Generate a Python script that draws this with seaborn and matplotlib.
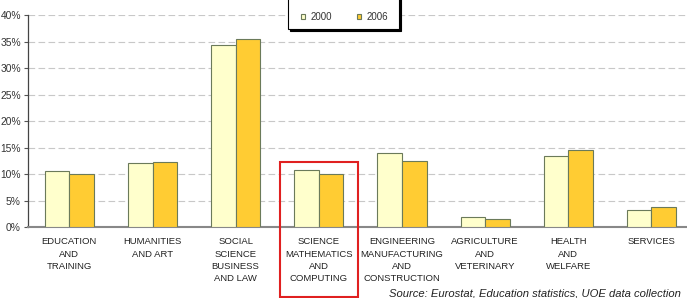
import matplotlib
matplotlib.use("Agg")
import matplotlib.pyplot as plt
from matplotlib.patches import Rectangle
from matplotlib.ticker import FuncFormatter, FixedLocator
import seaborn as sns
import pandas as pd

# Share of tertiary graduates by field of education (%)
fields = [
    "EDUCATION\nAND\nTRAINING",
    "HUMANITIES\nAND ART",
    "SOCIAL\nSCIENCE\nBUSINESS\nAND LAW",
    "SCIENCE\nMATHEMATICS\nAND\nCOMPUTING",
    "ENGINEERING\nMANUFACTURING\nAND\nCONSTRUCTION",
    "AGRICULTURE\nAND\nVETERINARY",
    "HEALTH\nAND\nWELFARE",
    "SERVICES",
]
years = ["2000", "2006"]
share_2000 = [10.5, 12.0, 34.3, 10.8, 13.9, 1.8, 13.4, 3.2]
share_2006 = [10.1, 12.2, 35.5, 10.0, 12.5, 1.6, 14.5, 3.8]

df = pd.DataFrame({
    "field": fields * 2,
    "year": [years[0]] * len(fields) + [years[1]] * len(fields),
    "share": share_2000 + share_2006,
})

sns.set_style("white")
plt.rcParams["font.family"] = ["Liberation Sans", "DejaVu Sans"]

W, H = 687, 298
fig = plt.figure(figsize=(W / 100, H / 100), dpi=100)
ax = fig.add_axes([27.8 / W, 71 / H, 665.2 / W, 211.7 / H])

palette = {"2000": "#FFFFCC", "2006": "#FFCC33"}
sns.barplot(data=df, x="field", y="share", hue="year", order=fields,
            hue_order=years, palette=palette, width=0.59, saturation=1,
            edgecolor="#6b7a5a", linewidth=0.8, ax=ax, zorder=3)

ax.set_ylim(0, 40)
ax.set_xlim(-0.5, len(fields) - 0.5)
ax.yaxis.set_major_locator(FixedLocator(range(0, 41, 5)))
ax.yaxis.set_major_formatter(FuncFormatter(lambda v, p: f"{v:.0f}%"))
ax.grid(axis="y", color="#c8c8c8", linestyle=(0, (6, 3)), linewidth=0.8, zorder=0)
ax.set_xlabel("")
ax.set_ylabel("")

# category labels centred, tick marks between categories
ax.set_xticks(range(len(fields)))
ax.set_xticklabels(fields, fontsize=6.8, color="#222222", linespacing=1.45,
                   va="top", ha="center")
ax.tick_params(axis="x", which="major", length=0, pad=7.5)
ax.set_xticks([i - 0.5 for i in range(len(fields) + 1)], minor=True)
ax.tick_params(axis="x", which="minor", length=3, direction="inout",
               color="#555555", width=0.8)
ax.tick_params(axis="y", length=3, width=0.8, color="#555555", pad=2,
               labelsize=7.4, labelcolor="#333333", left=True)

for s in ["top", "right"]:
    ax.spines[s].set_visible(False)
ax.spines["left"].set_color("#444444")
ax.spines["left"].set_linewidth(0.9)
ax.spines["bottom"].set_color("#888888")
ax.spines["bottom"].set_linewidth(1.5)

# legend: box with a black drop shadow, entries placed inside it
ax.legend_.remove()
handles, labels = ax.get_legend_handles_labels()
box_x0, box_x1, box_y0 = 288.3, 399, 29.3
fig.patches.append(Rectangle(((box_x0 + 2) / W, 1 - (box_y0 + 2) / H),
                             (box_x1 - box_x0) / W, (box_y0 + 10) / H,
                             transform=fig.transFigure, facecolor="black",
                             edgecolor="black", linewidth=0.8, zorder=2))
fig.patches.append(Rectangle((box_x0 / W, 1 - box_y0 / H),
                             (box_x1 - box_x0) / W, (box_y0 + 10) / H,
                             transform=fig.transFigure, facecolor="white",
                             edgecolor="black", linewidth=0.8, zorder=3))
leg = fig.legend(handles, labels, ncol=2, loc="center left",
                 bbox_to_anchor=(301 / W, 1 - 16.7 / H),
                 borderaxespad=0, borderpad=0, fontsize=7, frameon=False,
                 handlelength=0.45, handleheight=0.45, handletextpad=0.5,
                 columnspacing=2.6)
leg.set_zorder(4)
for t in leg.get_texts():
    t.set_color("#333333")

# red highlight around SCIENCE, MATHEMATICS AND COMPUTING
ax.add_patch(Rectangle((2.53, -13.2), 0.94, 25.4, fill=False,
                       edgecolor="#e02020", linewidth=1.5, clip_on=False, zorder=5))

fig.text(681 / W, 1.5 / H, "Source: Eurostat, Education statistics, UOE data collection",
         ha="right", va="baseline", fontsize=8.1, style="italic", color="#222222")

fig.savefig("out.png", dpi=100)
